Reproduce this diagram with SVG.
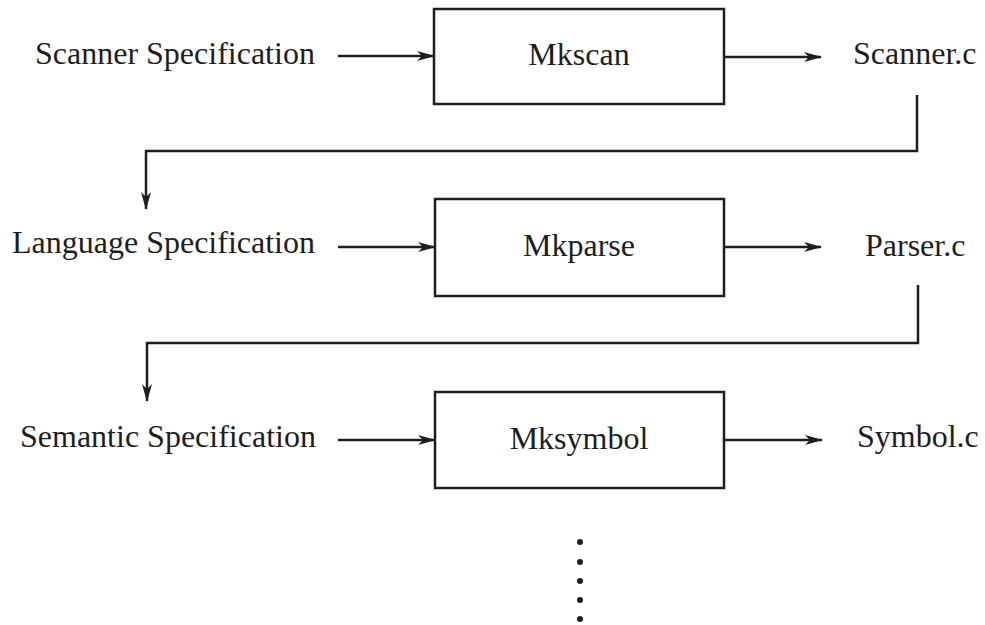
<svg xmlns="http://www.w3.org/2000/svg" width="985" height="625" viewBox="0 0 985 625">
  <style>
    .box { fill: #ffffff; stroke: #1e1e1e; stroke-width: 2.5; }
    .lbl { font-family: "Liberation Serif", "Times New Roman", serif; font-size: 32px; fill: #1e1e1e; }
    .mid { text-anchor: middle; }
    .conn { fill: none; stroke: #1e1e1e; stroke-width: 2.5; }
    .dot { fill: #1e1e1e; }
  </style>
  <defs>
    <marker id="ah" viewBox="0 0 18 12" refX="17" refY="6" markerWidth="18" markerHeight="12" markerUnits="userSpaceOnUse" orient="auto">
      <path d="M0,1 L18,6 L0,11 L5,6 z" fill="#1e1e1e"/>
    </marker>
  </defs>
  <rect width="985" height="625" fill="#ffffff"/>

  <g id="scanner-spec"><text class="lbl" x="35" y="64">Scanner Specification</text></g>
  <g id="mkscan"><rect class="box" x="434" y="9" width="290" height="95"/><text class="lbl mid" x="579" y="65">Mkscan</text></g>
  <g id="scanner-c"><text class="lbl" x="853" y="64">Scanner.c</text></g>

  <g id="language-spec"><text class="lbl" x="12" y="253">Language Specification</text></g>
  <g id="mkparse"><rect class="box" x="435" y="199" width="289" height="97"/><text class="lbl mid" x="579" y="256">Mkparse</text></g>
  <g id="parser-c"><text class="lbl" x="865" y="256">Parser.c</text></g>

  <g id="semantic-spec"><text class="lbl" x="20" y="447">Semantic Specification</text></g>
  <g id="mksymbol"><rect class="box" x="435" y="392" width="289" height="96"/><text class="lbl mid" x="579" y="449">Mksymbol</text></g>
  <g id="symbol-c"><text class="lbl" x="857" y="447">Symbol.c</text></g>

  <g id="ellipsis">
    <circle class="dot" cx="580" cy="542" r="3"/>
    <circle class="dot" cx="580" cy="562" r="3"/>
    <circle class="dot" cx="580" cy="581" r="3"/>
    <circle class="dot" cx="580" cy="600" r="3"/>
    <circle class="dot" cx="580" cy="619" r="3"/>
  </g>

  <g id="connectors">
    <line class="conn" x1="338" y1="56" x2="434" y2="56" marker-end="url(#ah)"/>
    <line class="conn" x1="724" y1="57" x2="821" y2="57" marker-end="url(#ah)"/>
    <path class="conn" d="M917,95 V151 H146 V209" marker-end="url(#ah)"/>
    <line class="conn" x1="338" y1="247" x2="435" y2="247" marker-end="url(#ah)"/>
    <line class="conn" x1="724" y1="247" x2="821" y2="247" marker-end="url(#ah)"/>
    <path class="conn" d="M918,285 V343 H147 V401" marker-end="url(#ah)"/>
    <line class="conn" x1="338" y1="440" x2="435" y2="440" marker-end="url(#ah)"/>
    <line class="conn" x1="724" y1="440" x2="822" y2="440" marker-end="url(#ah)"/>
  </g>
</svg>
